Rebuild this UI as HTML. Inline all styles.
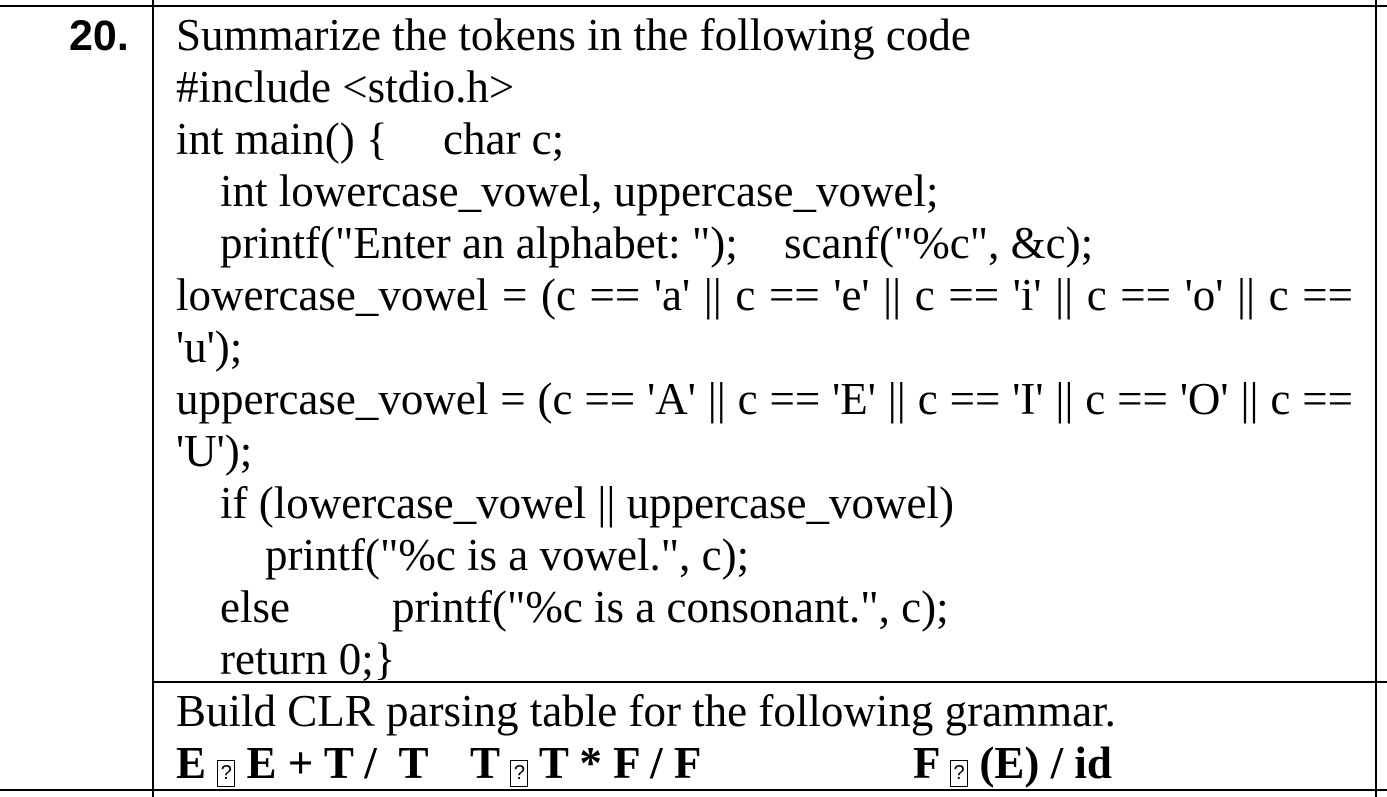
<!DOCTYPE html>
<html><head><meta charset="utf-8"><style>
html,body{margin:0;padding:0;background:#fff;}
body{width:1387px;height:797px;position:relative;overflow:hidden;font-family:"Liberation Serif",serif;color:#000;}
.h{position:absolute;height:2px;background:#000;}
.v{position:absolute;width:2px;background:#000;}
.t{position:absolute;font-size:45px;line-height:52px;white-space:pre;}
.j{white-space:normal;text-align:justify;text-align-last:justify;width:1177px;}
.b{font-weight:bold;}
.box{display:inline-block;box-sizing:border-box;width:18px;height:27px;border:1.5px solid #000;vertical-align:-1px;font-family:"Liberation Sans",sans-serif;font-size:20px;line-height:24px;text-align:center;font-weight:normal;}
</style></head><body>
<div class="h" style="left:0;top:5px;width:1387px"></div>
<div class="h" style="left:153px;top:681px;width:1234px"></div>
<div class="h" style="left:0;top:789px;width:1387px"></div>
<div class="v" style="left:152px;top:0;height:797px"></div>
<div class="v" style="left:1375px;top:0;height:797px"></div>
<div class="t" style="left:69px;top:10px;font-family:'Liberation Sans',sans-serif;font-weight:bold;font-size:43px;">20.</div>
<div class="t" style="left:176px;top:9px">Summarize the tokens in the following code</div>
<div class="t" style="left:176px;top:61px">#include &lt;stdio.h&gt;</div>
<div class="t" style="left:176px;top:113px">int main() {</div>
<div class="t" style="left:443px;top:113px">char c;</div>
<div class="t" style="left:220px;top:165px">int lowercase_vowel, uppercase_vowel;</div>
<div class="t" style="left:220px;top:217px">printf("Enter an alphabet: ");</div>
<div class="t" style="left:784px;top:217px">scanf("%c", &amp;c);</div>
<div class="t j" style="left:176px;top:269px">lowercase_vowel = (c == 'a' || c == 'e' || c == 'i' || c == 'o' || c ==</div>
<div class="t" style="left:176px;top:321px">'u');</div>
<div class="t j" style="left:176px;top:373px">uppercase_vowel = (c == 'A' || c == 'E' || c == 'I' || c == 'O' || c ==</div>
<div class="t" style="left:176px;top:425px">'U');</div>
<div class="t" style="left:220px;top:477px">if (lowercase_vowel || uppercase_vowel)</div>
<div class="t" style="left:265px;top:529px">printf("%c is a vowel.", c);</div>
<div class="t" style="left:220px;top:581px">else</div>
<div class="t" style="left:392px;top:581px">printf("%c is a consonant.", c);</div>
<div class="t" style="left:220px;top:633px">return 0;}</div>
<div class="t" style="left:176px;top:685px">Build CLR parsing table for the following grammar.</div>
<div class="t b" style="left:176px;top:737px">E <span class="box">?</span> E + T /  T</div>
<div class="t b" style="left:470px;top:737px">T <span class="box">?</span> T * F / F</div>
<div class="t b" style="left:913px;top:737px">F <span class="box">?</span> (E) / id</div>
</body></html>
